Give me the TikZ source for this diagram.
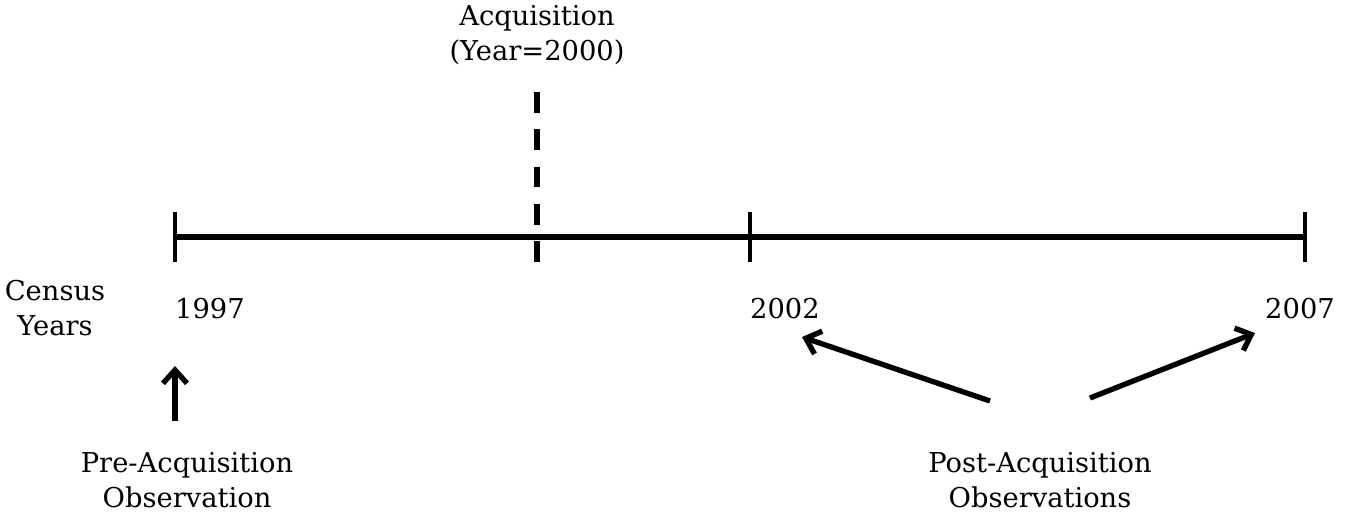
\documentclass[tikz,border=0pt]{standalone}
\usepackage{fontspec}
\setmainfont{DejaVu Serif}
\usetikzlibrary{arrows.meta}
\begin{document}
\begin{tikzpicture}[x=0.75pt,y=-0.75pt,
  lbl/.style={font=\fontsize{20.5}{26.5}\selectfont, align=center, inner sep=0pt},
  axis/.style={line width=4pt},
  tick/.style={line width=3.6pt},
  acq/.style={line width=4pt, dash pattern=on 15.5pt off 12.5pt},
  pointer/.style={line width=4pt, -{Straight Barb[length=10pt,width=18pt,line width=4pt]}}]
\useasboundingbox (0,0) rectangle (1357,512);
% axis coordinates
\coordinate (a0) at (175,237);
\coordinate (a1) at (750,237);
\coordinate (a2) at (1305,237);
\draw[axis] (a0) -- (a1) -- (a2);
\foreach \c in {a0,a1,a2} \draw[tick] ([yshift=25*0.75pt]\c) -- ([yshift=-25*0.75pt]\c);
% acquisition dashed line
\coordinate (d0) at (537,92);
\coordinate (d1) at (537,262);
\draw[acq] (d0) -- (d1);
\node[lbl] (acqtext) at (537,35) {Acquisition\\(Year=2000)};
% labels
\node[lbl] (census) at (55,308) {Census\\Years};
\node[lbl] (y1997) at (210,309) {1997};
\node[lbl] (y2002) at (785,309) {2002};
\node[lbl] (y2007) at (1300,309) {2007};
\node[lbl] (pre) at (187,480) {Pre-Acquisition\\Observation};
\node[lbl] (post) at (1040,480) {Post-Acquisition\\Observations};
% arrows
\coordinate (p0) at (175,421);
\coordinate (p1) at (175,366);
\draw[pointer] (p0) -- (p1);
\coordinate (q0) at (990,401);
\coordinate (q1) at (802,337);
\draw[pointer] (q0) -- (q1);
\coordinate (r0) at (1090,398);
\coordinate (r1) at (1255,333);
\draw[pointer] (r0) -- (r1);
\end{tikzpicture}
\end{document}
